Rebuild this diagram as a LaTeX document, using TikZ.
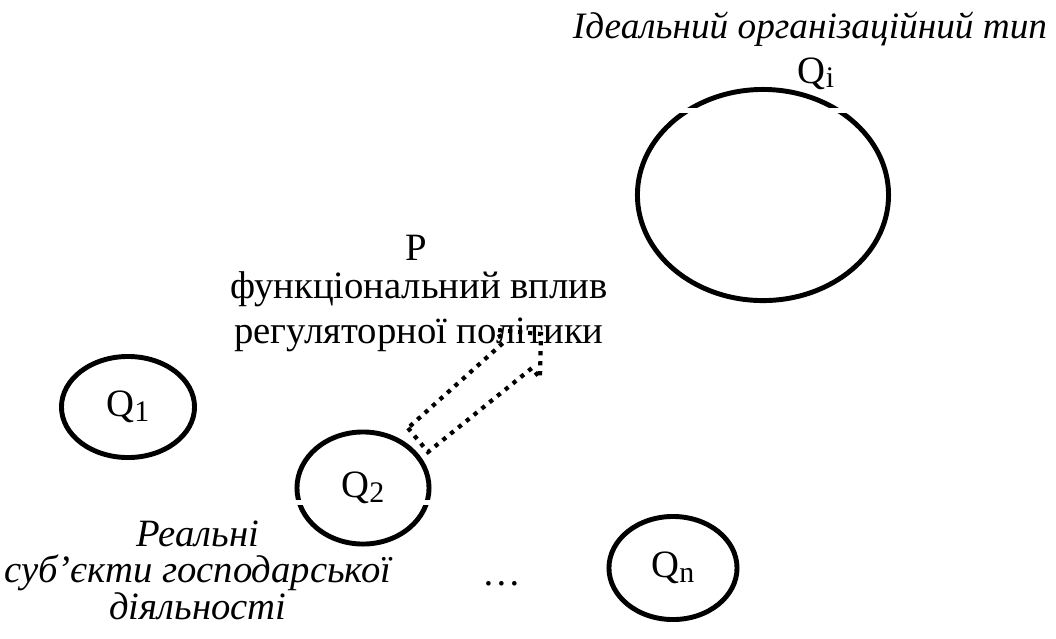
\documentclass[tikz,border=0pt]{standalone}
\usepackage{fontspec}
\setmainfont{Liberation Serif}
\usetikzlibrary{shapes.geometric}

\newcommand{\qidx}[1]{\raisebox{-0.25ex}{\fontsize{8.5}{8.5}\selectfont #1}}

\begin{document}
\begin{tikzpicture}[x=0.01cm, y=-0.01cm,
        txt/.style={font=\fontsize{11}{13}\selectfont},
        subj/.style={ellipse, draw, line width=1.4pt, inner sep=0pt, txt}]
        \useasboundingbox (0,0) rectangle (1056,638);

        % --- ідеальний тип ---
        \node[subj, minimum width=2.51cm, minimum height=2.11cm] (qi) at (763,195) {};
        \fill[white] (676,108) rectangle (700,113);
        \fill[white] (826,108) rectangle (850,113);
        \node[txt, anchor=base] (qilab) at (816,83) {Q\qidx{i}};
        \node[txt, font=\fontsize{10.6}{13}\selectfont\itshape, anchor=base] (title) at (810,38) {Ідеальний організаційний тип};

        % --- реальні суб'єкти ---
        \foreach \name/\pos/\w/\h/\lab in {q1/{(128,407)}/1.33cm/1.01cm/1, q2/{(363,488)}/1.32cm/1.12cm/2, qn/{(673,568)}/1.28cm/1.03cm/n} {
            \node[subj, minimum width=\w, minimum height=\h] (\name) at \pos {Q\qidx{\lab}};
        }
        \fill[white] (288,500) rectangle (306,505);
        \fill[white] (420,500) rectangle (438,505);
        \node[txt, anchor=base] (dots) at (502,585) {…};
        \node[txt, font=\fontsize{11}{10.4}\selectfont\itshape, align=center] (real) at (198,570) {Реальні\\суб’єкти господарської\\діяльності};

        % --- вплив політики ---
        \node[txt, anchor=base] (p) at (416,260) {P};
        \node[txt, font=\fontsize{11}{12.8}\selectfont, align=center] (infl) at (419,312) {функціональний вплив\\регуляторної політики};
        \draw[line width=1.2pt, dash pattern=on 1.2pt off 1.65pt]
            (408,428) -- (428,452) -- (532,368) -- (540,378) -- (541,334) -- (497,330) -- (503,343) -- cycle;
\end{tikzpicture}
\end{document}
